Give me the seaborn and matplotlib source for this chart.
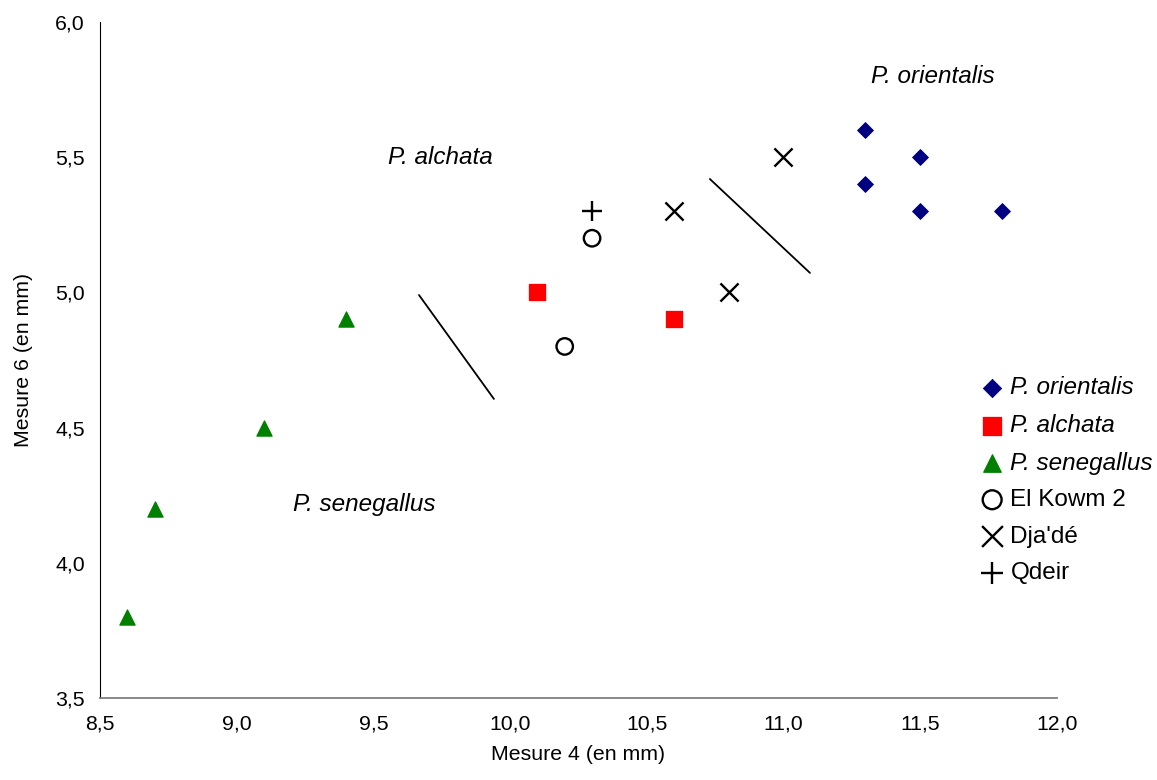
import pandas as pd
import matplotlib.pyplot as plt
import seaborn as sns

orient_x = [11.3, 11.5, 11.3, 11.5, 11.8]
orient_y = [5.6, 5.5, 5.4, 5.3, 5.3]
alch_x = [10.1, 10.6]
alch_y = [5.0, 4.9]
seneg_x = [8.6, 8.7, 9.1, 9.4]
seneg_y = [3.8, 4.2, 4.5, 4.9]
kowm_x = [10.3, 10.2]
kowm_y = [5.2, 4.8]
djade_x = [11.0, 10.6, 10.8]
djade_y = [5.5, 5.3, 5.0]
qdeir_x = [10.3]
qdeir_y = [5.3]

sep1_x = [9.667, 9.941]
sep1_y = [4.99, 4.606]
sep2_x = [10.731, 11.097]
sep2_y = [5.419, 5.072]

sns.set_style('white')
plt.rcParams['font.family'] = ['Liberation Sans', 'DejaVu Sans']
plt.rcParams['text.color'] = 'black'
plt.rcParams['axes.labelcolor'] = 'black'
plt.rcParams['xtick.color'] = 'black'
plt.rcParams['ytick.color'] = 'black'

fig = plt.figure(figsize=(11.57, 7.8), dpi=100)
ax = fig.add_axes([0.0864, 0.105, 0.827, 0.867])

sns.scatterplot(x=orient_x, y=orient_y, marker='D', color='#000080', s=65,
                edgecolor='#000080', label='P. orientalis', ax=ax)
sns.scatterplot(x=alch_x, y=alch_y, marker='s', color='#ff0000', s=140,
                edgecolor='#ff0000', label='P. alchata', ax=ax)
sns.scatterplot(x=seneg_x, y=seneg_y, marker='^', color='#008000', s=120,
                edgecolor='#008000', label='P. senegallus', ax=ax)
sns.scatterplot(x=kowm_x, y=kowm_y, marker='o', facecolor='none', s=140,
                edgecolor='black', linewidth=1.7, label='El Kowm 2', ax=ax)
sns.scatterplot(x=djade_x, y=djade_y, marker='x', color='black', s=170,
                linewidth=1.7, label="Dja'dé", ax=ax)
sns.scatterplot(x=qdeir_x, y=qdeir_y, marker='+', color='black', s=190,
                linewidth=1.7, label='Qdeir', ax=ax)

ax.plot(sep1_x, sep1_y, color='black', lw=1.3)
ax.plot(sep2_x, sep2_y, color='black', lw=1.3)

ax.text(11.547, 5.797, 'P. orientalis', style='italic', fontsize=17.5, ha='center', va='center')
ax.text(9.747, 5.50, 'P. alchata', style='italic', fontsize=17.5, ha='center', va='center')
ax.text(9.466, 4.214, 'P. senegallus', style='italic', fontsize=17.5, ha='center', va='center')

ax.set_xlim(8.5, 12.0)
ax.set_ylim(3.5, 6.0)
xt = [8.5, 9.0, 9.5, 10.0, 10.5, 11.0, 11.5, 12.0]
yt = [3.5, 4.0, 4.5, 5.0, 5.5, 6.0]
ax.set_xticks(xt)
ax.set_xticklabels([f'{v:.1f}'.replace('.', ',') for v in xt], fontsize=15.3)
ax.set_yticks(yt)
ax.set_yticklabels([f'{v:.1f}'.replace('.', ',') for v in yt], fontsize=15.3)
ax.tick_params(axis='x', direction='in', length=6, color='#808080', pad=12)
ax.tick_params(axis='y', direction='out', length=6, color='black', pad=5)
ax.set_xlabel('Mesure 4 (en mm)', fontsize=15.3, labelpad=8)
ax.set_ylabel('Mesure 6 (en mm)', fontsize=15.3, labelpad=16)

for s in ['top', 'right']:
    ax.spines[s].set_visible(False)
ax.spines['bottom'].set_color('#808080')
ax.spines['bottom'].set_linewidth(1.3)
ax.spines['left'].set_color('black')

leg = ax.legend(loc='center left', bbox_to_anchor=(0.921, 0.322), frameon=False,
                fontsize=17.5, handletextpad=0.3, labelspacing=0.6, handlelength=0.9,
                borderpad=0, borderaxespad=0, markerscale=1.15)
for t in leg.get_texts()[:3]:
    t.set_style('italic')

fig.savefig('out.png', dpi=100)
